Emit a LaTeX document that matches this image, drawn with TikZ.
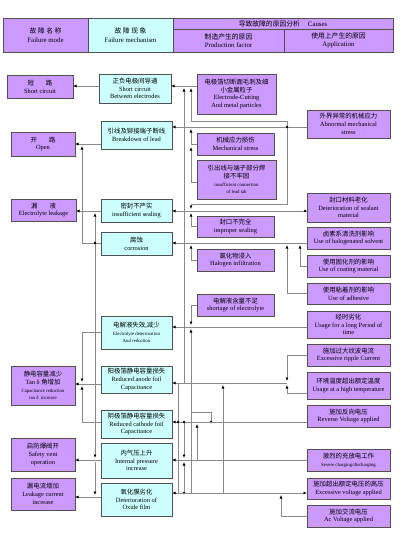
\documentclass[tikz,border=0pt]{standalone}
\usepackage{fontspec}
\setmainfont{Liberation Serif}
\newfontfamily\cjk{Noto Sans CJK SC}
\usetikzlibrary{arrows.meta}
\newcommand{\zh}[1]{{\cjk #1}}
\newcommand{\smf}{\fontsize{4.8}{5.8}\selectfont}
\definecolor{vio}{HTML}{CC99FF}
\definecolor{cya}{HTML}{CCFFFF}
\definecolor{lnc}{HTML}{8A8A8A}
\definecolor{bdc}{HTML}{505050}
\newcommand{\bx}[7]{\node[#2, minimum width={(#5-#3)*1pt}, minimum height={(#6-#4)*1pt}] (#1) at ({(#3+#5)/2},{(#4+#6)/2}) {#7};}
\tikzset{
  box/.style={draw=bdc, line width=0.6pt, inner sep=0pt, outer sep=0pt, align=center, font=\fontsize{6.4}{7.8}\selectfont},
  pbox/.style={box, fill=vio},
  cbox/.style={box, fill=cya},
  hbox/.style={box, font=\fontsize{6.8}{8.6}\selectfont},
  ln/.style={draw=lnc, line width=0.7pt},
  arr/.style={ln, -{Latex[length=3.5pt,width=3pt,color=black]}},
  barr/.style={ln, {Latex[length=3.5pt,width=3pt,color=black]}-{Latex[length=3.5pt,width=3pt,color=black]}},
  jdot/.style={circle, fill=black, inner sep=0pt, minimum size=2.6pt}
}
\begin{document}
\begin{tikzpicture}[x=1pt,y=-1pt]
\useasboundingbox (0,0) rectangle (400,533);
\fill[white] (0,0) rectangle (400,533);
% header
\bx{h1}{hbox,fill=vio}{3}{18}{88}{52}{\zh{故\ 障\ 名\ 称}\\Failure mode}
\bx{h2}{hbox,fill=cya}{88}{18}{173}{52}{\zh{故\ 障\ 现\ 象}\\Failure mechanism}
\bx{h3}{hbox,fill=vio}{173}{18}{393}{29}{\zh{导致故障的原因分析}\hspace{8pt}Causes}
\bx{h4}{hbox,fill=vio}{173}{29}{284}{52}{\zh{制造产生的原因}\\Production factor}
\bx{h5}{hbox,fill=vio}{284}{29}{393}{52}{\zh{使用上产生的原因}\\Application}
% failure modes
\bx{m1}{pbox}{7}{75}{73}{98}{\zh{短}\hspace{12pt}\zh{路}\\Short circuit}
\bx{m2}{pbox}{11}{132}{75}{156}{\zh{开}\hspace{12pt}\zh{路}\\Open}
\bx{m3}{pbox}{11}{199}{76}{221}{\zh{漏}\hspace{12pt}\zh{液}\\Electrolyte leakage}
\bx{m4}{pbox}{11}{366}{75}{405}{\zh{静电容量减少}\\Tan δ \zh{角增加}\\{\smf Capacitance reduction}\\{\smf tan δ\ \ increase}}
\bx{m5}{pbox}{11}{438}{75}{471}{\zh{启防爆阀开}\\Safety vent\\operation}
\bx{m6}{pbox}{11}{478}{75}{510}{\zh{漏电流增加}\\Leakage current\\increase}
% mechanisms
\bx{k1}{cbox}{99}{74}{171}{103}{\zh{正负电极间导通}\\Short circuit\\Between electrodes}
\bx{k2}{cbox}{101}{121}{172}{149}{\zh{引线及铆接端子断线}\\Breakdown of lead}
\bx{k3}{cbox}{101}{199}{172}{222}{\zh{密封不严实}\\insufficient sealing}
\bx{k4}{cbox}{101}{232}{172}{255}{\zh{腐蚀}\\corrosion}
\bx{k5}{cbox}{101}{316}{172}{349}{\zh{电解液失效,减少}\\{\smf Electrolyte deterioration}\\{\smf And reduction}}
\bx{k6}{cbox}{101}{366}{172}{393}{\zh{阳极箔静电容量损失}\\Reduced anode foil\\Capacitance}
\bx{k7}{cbox}{101}{410}{172}{438}{\zh{阴极箔静电容量损失}\\Reduced cathode foil\\Capacitance}
\bx{k8}{cbox}{101}{443}{172}{478}{\zh{内气压上升}\\Internal pressure\\increase}
\bx{k9}{cbox}{101}{483}{172}{516}{\zh{氧化膜劣化}\\Deterioration of\\Oxide film}
% production factors
\bx{p1}{pbox}{197}{74}{276}{114}{\zh{电极箔切断面毛刺及细}\\\zh{小金属粒子}\\Electrode-Cutting\\And metal particles}
\bx{p2}{pbox}{197}{133}{274}{155}{\zh{机械应力损伤}\\Mechanical stress}
\bx{p3}{pbox}{197}{160}{276}{199}{\zh{引出线与端子部分焊}\\\zh{接不牢固}\\{\smf insufficient connection}\\{\smf of lead tab}}
\bx{p4}{pbox}{197}{216}{274}{237}{\zh{封口不完全}\\improper sealing}
\bx{p5}{pbox}{197}{249}{274}{271}{\zh{氯化物浸入}\\Halogen infiltration}
\bx{p6}{pbox}{197}{294}{274}{316}{\zh{电解液含量不足}\\shortage of electrolyte}
% application
\bx{a1}{pbox}{307}{110}{390}{138}{\zh{外界异常的机械应力}\\Abnormal mechanical\\stress}
\bx{a2}{pbox}{307}{193}{390}{222}{\zh{封口材料老化}\\Deterioration of sealant\\material}
\bx{a3}{pbox}{307}{227}{390}{249}{\zh{卤素系清洗剂影响}\\Use of halogenated solvent}
\bx{a4}{pbox}{307}{255}{390}{277}{\zh{使用固化剂的影响}\\Use of coating material}
\bx{a5}{pbox}{307}{283}{390}{304}{\zh{使用粘着剂的影响}\\Use of adhesive}
\bx{a6}{pbox}{307}{311}{390}{338}{\zh{经时劣化}\\Usage for a long Period of\\time}
\bx{a7}{pbox}{307}{344}{390}{366}{\zh{施加过大纹波电流}\\Excessive ripple Current}
\bx{a8}{pbox}{307}{372}{390}{399}{\zh{环境温度超出额定温度}\\Usage at a high temperature}
\bx{a9}{pbox}{307}{405}{390}{427}{\zh{施加反向电压}\\Reverse Voltage applied}
\bx{a10}{pbox}{307}{449}{390}{471}{\zh{激烈的充放电工作}\\{\smf Severe charging/discharging}}
\bx{a11}{pbox}{307}{478}{390}{499}{\zh{施加超出额定电压的高压}\\Excessive voltage applied}
\bx{a12}{pbox}{307}{505}{390}{527}{\zh{施加交流电压}\\Ac Voltage applied}
% ---------- coordinates
\coordinate (yA) at (0,86);
\coordinate (yB) at (0,144);
\coordinate (yC) at (0,211);
\coordinate (yD) at (0,384);
\coordinate (yE) at (0,460);
\coordinate (yF) at (0,497);
\coordinate (yG) at (0,127);
\coordinate (yI) at (0,243);
\coordinate (yJ) at (0,327);
\coordinate (yK) at (0,383);
\coordinate (yL) at (0,422);
\coordinate (yN) at (0,493);
% ---------- left connectors
\draw[arr] (k1.west |- yA) -- (m1.east |- yA);
\draw[arr] (k2.west |- yB) -- (m2.east |- yB);
\draw[arr] (k3.west |- yC) -- (m3.east |- yC);
\coordinate (c1) at (82,243);
\coordinate (c1t) at (82,146);
\draw[arr] (k4.west |- c1) -- (c1) -- (c1t);
\coordinate (d1) at (95,243);
\coordinate (d1t) at (95,213);
\coordinate (d1m) at (95,458);
\coordinate (d1n) at (95,462);
\coordinate (d1b) at (95,495);
\draw[arr] (d1) -- (d1t);
\draw[arr] (d1) -- (d1m);
\draw[arr] (d1n) -- (d1b);
\node[jdot] (j1) at (d1) {};
\coordinate (e1) at (82,332);
\coordinate (e2) at (82,382);
\coordinate (e3) at (82,422);
\coordinate (e4) at (82,386);
\draw[arr] (k5.west |- e1) -- (e1) -- (e2);
\draw[arr] (k6.west |- yD) -- (m4.east |- yD);
\draw[arr] (k7.west |- e3) -- (e3) -- (e4);
\draw[arr] (k8.west |- yE) -- (m5.east |- yE);
\draw[arr] (k9.west |- yF) -- (m6.east |- yF);
% ---------- right connectors
\draw[arr] (p1.west |- yA) -- (k1.east |- yA);
\coordinate (b1) at (184,383);
\coordinate (b1t) at (184,88);
\draw[arr] (b1) -- (b1t);
\draw[arr] (a1.west |- yG) -- (k2.east |- yG);
\coordinate (ab) at (287,127);
\coordinate (u2) at (287,121);
\coordinate (u1) at (191,121);
\coordinate (u1t) at (191,88);
\draw[arr] (ab) -- (u2) -- (u1) -- (u1t);
\coordinate (u3) at (287,204);
\coordinate (u4) at (191,204);
\coordinate (u4t) at (191,209);
\draw[arr] (ab) -- (u3) -- (u4) -- (u4t);
\node[jdot] (j2) at (ab) {};
\coordinate (v1) at (191,144);
\coordinate (v1t) at (191,129);
\coordinate (v2) at (191,182);
\coordinate (v3) at (191,147);
\draw[arr] (p3.west |- v2) -- (v2) -- (v3);
\draw[arr] (p2.west |- v1) -- (v1) -- (v1t);
\draw[arr] (a2.west |- yC) -- (k3.east |- yC);
\coordinate (sd) at (305,211);
\node[jdot] (j3) at (sd) {};
\coordinate (w1) at (191,226);
\coordinate (w1t) at (191,213);
\draw[arr] (p4.west |- w1) -- (w1) -- (w1t);
\draw[arr] (a3.west |- yI) -- (k4.east |- yI);
\coordinate (h1) at (191,260);
\coordinate (h1t) at (191,245);
\draw[arr] (p5.west |- h1) -- (h1) -- (h1t);
\coordinate (h2) at (300,266);
\coordinate (h2t) at (300,245);
\draw[arr] (a4.west |- h2) -- (h2) -- (h2t);
\coordinate (h3) at (287,293);
\coordinate (h3t) at (287,245);
\draw[arr] (a5.west |- h3) -- (h3) -- (h3t);
\draw[arr] (a6.west |- yJ) -- (k5.east |- yJ);
\coordinate (s1) at (191,305);
\coordinate (s1t) at (191,325);
\draw[arr] (p6.west |- s1) -- (s1) -- (s1t);
\coordinate (r0) at (211,422);
\coordinate (r1) at (211,412);
\coordinate (r2) at (191,412);
\coordinate (r2t) at (191,329);
\coordinate (r3) at (191,493);
\draw[arr] (r0) -- (r1) -- (r2) -- (r2t);
\draw[ln] (r2) -- (r3);
\node[jdot] (j4) at (r0) {};
\coordinate (t0) at (287,383);
\draw[arr] (t0) -- (k6.east |- yK);
\coordinate (t1) at (287,355);
\coordinate (t1t) at (287,381);
\draw[arr] (a7.west |- t1) -- (t1) -- (t1t);
\coordinate (t2) at (287,393);
\coordinate (t2t) at (287,385);
\draw[arr] (a8.west |- t2) -- (t2) -- (t2t);
\coordinate (x1) at (223,493);
\coordinate (x1t) at (223,385);
\draw[arr] (x1) -- (x1t);
\draw[arr] (a9.west |- yL) -- (k7.east |- yL);
\coordinate (g1) at (184,422);
\coordinate (g2) at (184,458);
\coordinate (g3) at (184,493);
\coordinate (g4) at (184,462);
\draw[arr] (g1) -- (g2);
\draw[arr] (g3) -- (g4);
\node[jdot] (j5) at (g1) {};
\node[jdot] (j6) at (g3) {};
\coordinate (f1) at (178,383);
\coordinate (f2) at (178,493);
\draw[ln] (f1) -- (f2);
\node[jdot] (j7) at (178,422) {};
\draw[arr] (a10.west |- yE) -- (k8.east |- yE);
\coordinate (q1) at (197,460);
\coordinate (q1t) at (197,424);
\draw[arr] (q1) -- (q1t);
\draw[barr] (k9.east |- yN) -- (a11.west |- yN);
\coordinate (z1) at (281,516);
\coordinate (z1t) at (281,495);
\draw[arr] (a12.west |- z1) -- (z1) -- (z1t);
\end{tikzpicture}
\end{document}
